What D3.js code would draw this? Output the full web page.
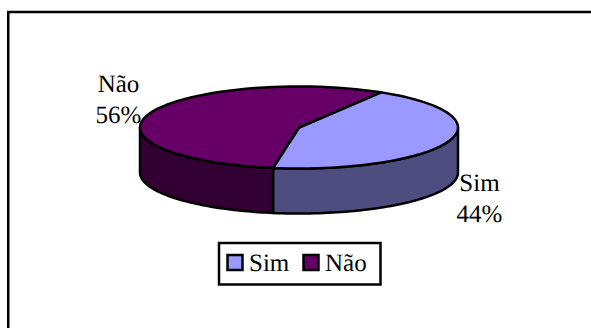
<!DOCTYPE html>
<html>
<head>
<meta charset="utf-8">
<script src="https://cdn.jsdelivr.net/npm/d3@7"></script>
<style>
html, body { margin: 0; padding: 0; background: #fff; overflow: hidden; }
svg { display: block; }
text { font-family: "Liberation Serif", "Times New Roman", serif; fill: #000; text-rendering: geometricPrecision; }
</style>
</head>
<body>
<svg id="chart" width="591" height="328"></svg>
<script>
// Survey answers shown as a tilted 3D pie
const categories = ["Sim", "Não"];
const shares = [44, 56];
const topColors = ["#9999ff", "#660066"];
const sideColors = ["#4d4d80", "#330033"];

const cx = 299, cy = 127.5, rx = 159, ry = 41, depth = 45;
const tau = 2 * Math.PI;
const firstSliceAngle = 31 / 360 * tau;
const lineWeight = 2.5;
const fontSize = 25;

const svg = d3.select("#chart");

// Chart frame: its top and left edges run on to the page border
svg.append("path")
  .attr("d", d3.line()([[8.25, 328], [8.25, 12], [591, 12]]))
  .attr("fill", "none").attr("stroke", "#000").attr("stroke-width", 2.5);

const pie = d3.pie().sort(null)
  .startAngle(firstSliceAngle)
  .endAngle(firstSliceAngle + tau);
const slices = pie(shares);

// Position on the tilted rim; angle runs clockwise from 12 o'clock
const rim = (a, drop = 0) => [cx + rx * Math.sin(a), cy - ry * Math.cos(a) + drop];
const line = d3.line();
const steps = (a, b) => d3.range(0, 61).map(i => a + (b - a) * i / 60);

// Walls: only the front half of the rim (90 to 270 degrees) can be seen
slices.forEach((s, i) => {
  const from = Math.max(s.startAngle, tau / 4);
  const to = Math.min(s.endAngle, 3 * tau / 4);
  if (to <= from) return;
  const angles = steps(from, to);
  const outline = angles.map(a => rim(a)).concat(angles.slice().reverse().map(a => rim(a, depth)));
  svg.append("path")
    .attr("d", line(outline) + "Z")
    .attr("fill", sideColors[i])
    .attr("stroke", "#000").attr("stroke-width", lineWeight).attr("stroke-linejoin", "round");
});

// Top face of each slice
slices.forEach((s, i) => {
  const outline = [[cx, cy]].concat(steps(s.startAngle, s.endAngle).map(a => rim(a)));
  svg.append("path")
    .attr("d", line(outline) + "Z")
    .attr("fill", topColors[i])
    .attr("stroke", "#000").attr("stroke-width", lineWeight).attr("stroke-linejoin", "round");
});

// Data labels: category above its percentage
const labelPositions = [[479.5, 191], [118.5, 92]];
slices.forEach((s, i) => {
  const [x, y] = labelPositions[i];
  const t = svg.append("text")
    .attr("text-anchor", "middle")
    .attr("font-size", fontSize);
  t.append("tspan").attr("x", x).attr("y", y).text(categories[i]);
  t.append("tspan").attr("x", x).attr("dy", 31).text(shares[i] + "%");
});

// Legend
const legend = svg.append("g");
legend.append("rect")
  .attr("x", 219).attr("y", 243)
  .attr("width", 161.5).attr("height", 41.5)
  .attr("fill", "#fff").attr("stroke", "#000").attr("stroke-width", lineWeight);
const legendX = d3.scaleOrdinal().domain(categories).range([227.5, 303.5]);
categories.forEach((c, i) => {
  legend.append("rect")
    .attr("x", legendX(c)).attr("y", 255)
    .attr("width", 15).attr("height", 15)
    .attr("fill", topColors[i]).attr("stroke", "#000").attr("stroke-width", lineWeight);
  legend.append("text")
    .attr("x", legendX(c) + 21.5).attr("y", 271)
    .attr("font-size", fontSize)
    .text(c);
});
</script>
</body>
</html>
